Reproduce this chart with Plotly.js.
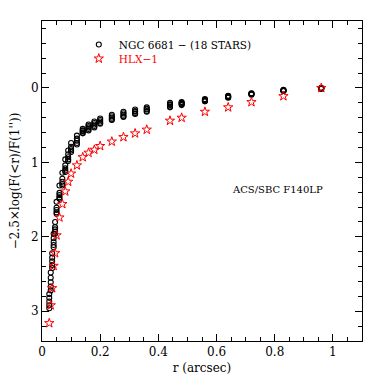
<!DOCTYPE html>
<html>
<head>
<meta charset="utf-8">
<script src="https://cdn.plot.ly/plotly-3.0.1.min.js"></script>
<style>
  html, body { margin: 0; padding: 0; background: #fff; }
  #myDiv { width: 382px; height: 382px; }
</style>
</head>
<body>
<div id="myDiv"></div>
<script>
// aperture radii (arcsec)
var radii = [0.025, 0.03, 0.035, 0.04, 0.045, 0.05, 0.06, 0.07, 0.08, 0.09, 0.1, 0.12, 0.14,
             0.16, 0.18, 0.2, 0.24, 0.28, 0.32, 0.36, 0.44, 0.48, 0.56, 0.64, 0.72, 0.83, 0.96];

// NGC 6681 stars (spread of the 18 curves at each radius)
var ngcA = [2.77, 2.48, 2.22, 1.96, 1.80, 1.53, 1.31, 1.14, 0.96, 0.84, 0.74, 0.64, 0.55,
            0.49, 0.45, 0.41, 0.36, 0.32, 0.29, 0.26, 0.20, 0.19, 0.15, 0.105, 0.07, 0.025, 0];
var ngcB = [2.82, 2.55, 2.28, 2.02, 1.87, 1.61, 1.41, 1.22, 1.04, 0.89, 0.79, 0.68, 0.57,
            0.51, 0.47, 0.43, 0.38, 0.34, 0.31, 0.28, 0.22, 0.20, 0.16, 0.11, 0.075, 0.03, 0];
var ngcC = [2.87, 2.61, 2.33, 2.07, 1.90, 1.64, 1.44, 1.26, 1.08, 0.93, 0.82, 0.71, 0.58,
            0.53, 0.49, 0.45, 0.40, 0.36, 0.32, 0.29, 0.23, 0.21, 0.165, 0.12, 0.08, 0.035, 0.005];
var ngcD = [2.92, 2.67, 2.38, 2.11, 1.93, 1.67, 1.47, 1.29, 1.11, 0.96, 0.84, 0.74, 0.60,
            0.55, 0.51, 0.47, 0.42, 0.38, 0.34, 0.31, 0.25, 0.22, 0.175, 0.125, 0.085, 0.04, 0.01];
var ngcE = [2.96, 2.72, 2.42, 2.14, 1.96, 1.69, 1.49, 1.31, 1.13, 0.98, 0.86, 0.76, 0.61,
            0.57, 0.53, 0.48, 0.43, 0.39, 0.35, 0.32, 0.26, 0.23, 0.18, 0.13, 0.09, 0.04, 0.01];

// HLX-1
var hlx = [3.16, 2.92, 2.69, 2.39, 2.22, 1.98, 1.74, 1.56, 1.39, 1.26, 1.15, 1.04, 0.93,
           0.87, 0.83, 0.78, 0.72, 0.66, 0.61, 0.56, 0.44, 0.40, 0.32, 0.26, 0.19, 0.11, 0.0];

var ngcX = [], ngcY = [];
[ngcA, ngcB, ngcC, ngcD, ngcE].forEach(function (s) {
    for (var i = 0; i < radii.length; i++) {
        ngcX.push(radii[i]);
        ngcY.push(s[i]);
    }
});

var fnt = 'DejaVu Serif, serif';

var ngc = {
    x: ngcX, y: ngcY,
    type: 'scatter', mode: 'markers',
    name: 'NGC 6681 \u2212 (18 STARS)',
    legend: 'legend',
    marker: { symbol: 'circle-open', size: 5, color: '#000', line: { color: '#000', width: 1.1 } }
};
var star = {
    x: radii, y: hlx,
    type: 'scatter', mode: 'markers',
    name: '<span style="color:#ff0000">HLX\u22121</span>',
    legend: 'legend2',
    marker: { symbol: 'star-open', size: 7, color: '#ff0000', line: { color: '#ff0000', width: 1 } }
};

var legStyle = function (ytop) {
    return {
        x: 0.115, y: ytop, xanchor: 'left', yanchor: 'top',
        bgcolor: 'rgba(0,0,0,0)', font: { family: fnt, size: 10.5, color: '#000' },
        itemwidth: 30
    };
};

var layout = {
    width: 382, height: 382,
    margin: { l: 42, r: 20, t: 21, b: 41 },
    paper_bgcolor: '#fff', plot_bgcolor: '#fff',
    font: { family: fnt, size: 12, color: '#000' },
    showlegend: true,
    legend: legStyle(0.972),
    legend2: legStyle(0.928),
    xaxis: {
        range: [0, 1.1],
        tick0: 0, dtick: 0.2,
        ticks: 'inside', ticklen: 7, tickcolor: '#000',
        minor: { dtick: 0.05, ticks: 'inside', ticklen: 4, tickcolor: '#000' },
        showline: true, linecolor: '#000', linewidth: 1, mirror: 'allticks',
        showgrid: false, zeroline: false,
        tickfont: { family: fnt, size: 12 },
        title: { text: 'r (arcsec)', font: { family: fnt, size: 12 }, standoff: 5 }
    },
    yaxis: {
        range: [3.4, -0.9],
        tick0: 0, dtick: 1,
        tickvals: [0, 1, 2, 3],
        ticks: 'inside', ticklen: 7, tickcolor: '#000',
        minor: { dtick: 0.2, ticks: 'inside', ticklen: 4, tickcolor: '#000' },
        showline: true, linecolor: '#000', linewidth: 1, mirror: 'allticks',
        showgrid: false, zeroline: false,
        tickfont: { family: fnt, size: 12 },
        title: { text: '\u22122.5\u00d7log(F(&lt;r)/F(1\'\'))', font: { family: fnt, size: 12 }, standoff: 8 }
    },
    annotations: [{
        x: 0.81, y: 1.36, xref: 'x', yref: 'y',
        text: 'ACS/SBC F140LP', showarrow: false,
        font: { family: fnt, size: 10, color: '#000' }
    }]
};

Plotly.newPlot('myDiv', [ngc, star], layout, { staticPlot: true, displayModeBar: false });
</script>
</body>
</html>
